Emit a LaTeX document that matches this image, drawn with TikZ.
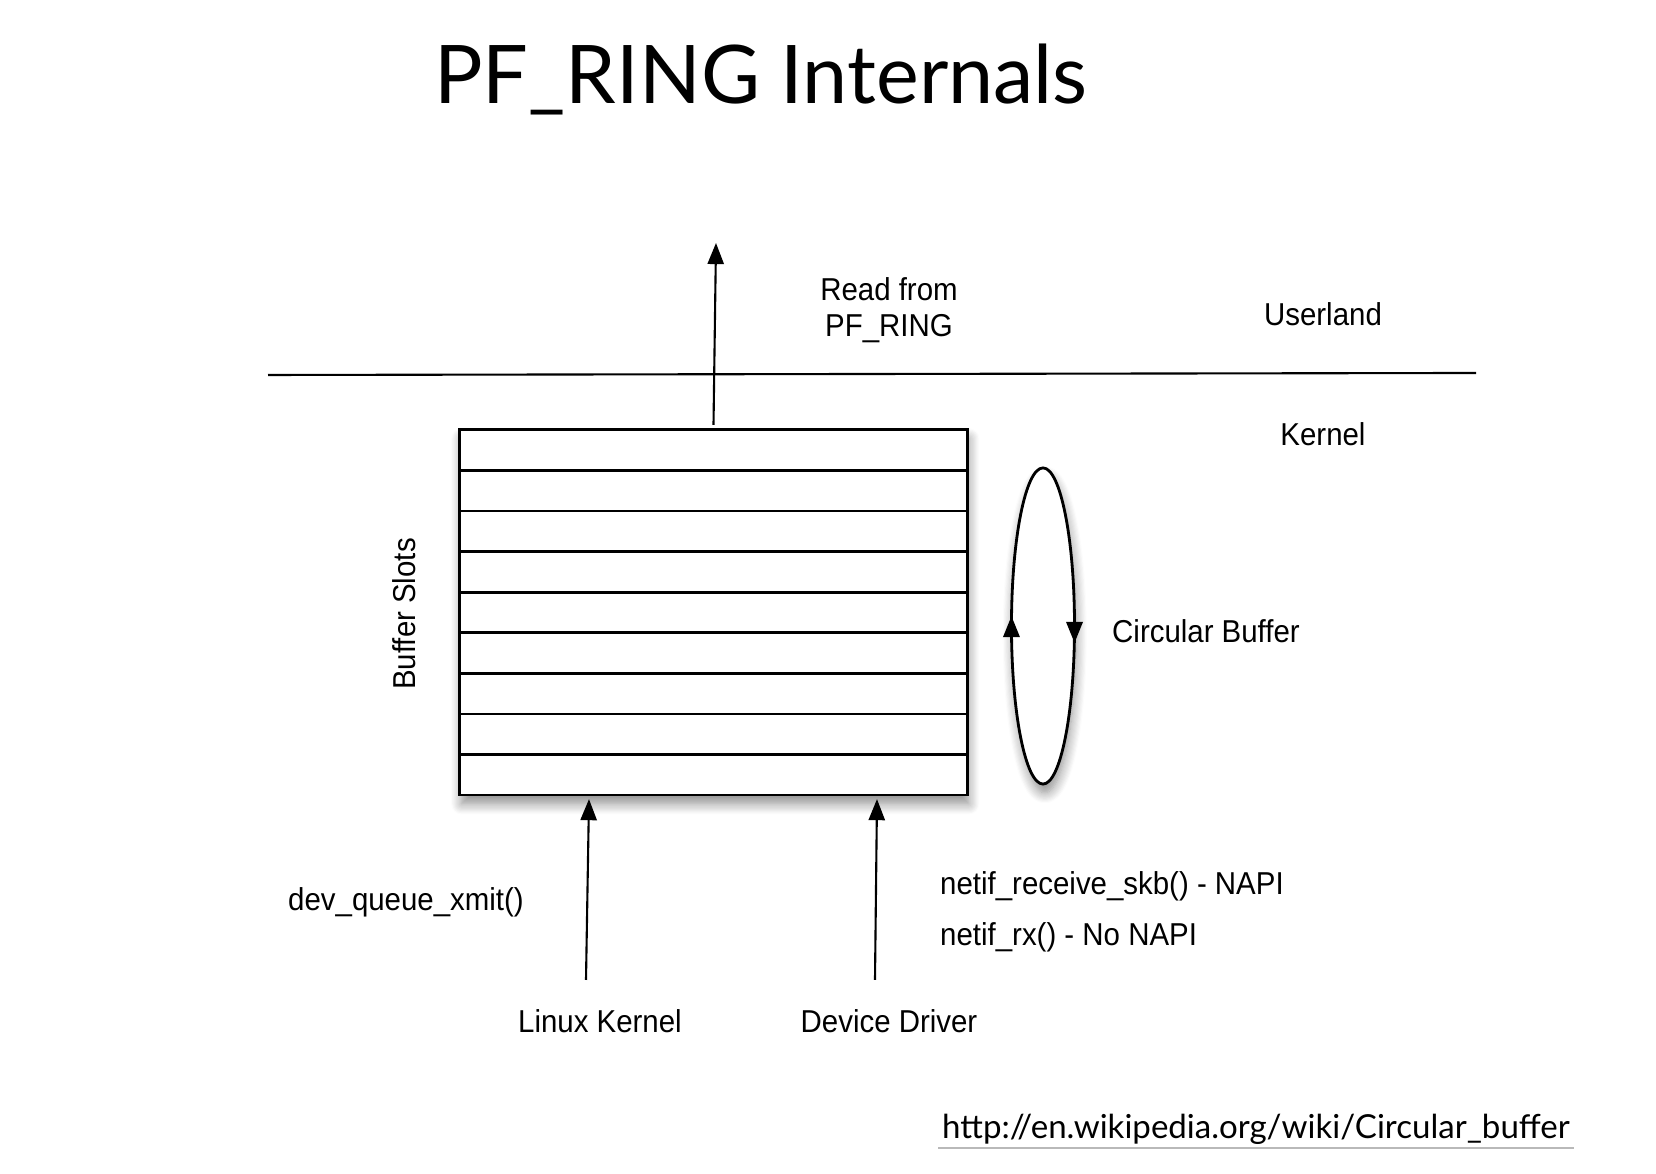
\documentclass[tikz,border=0pt]{standalone}
\usepackage{fontspec}
\setmainfont{Liberation Sans}[FakeStretch=0.93]
\newfontfamily\titlefont{Lato}
\usetikzlibrary{arrows.meta,positioning,shapes.geometric,shadows.blur,calc}

\begin{document}
\begin{tikzpicture}[
	x=0.01cm, y=-0.01cm,
	font=\fontsize{9}{10.2}\selectfont,
	txt/.style={inner sep=1pt, align=center},
	softshadow/.style={blur shadow={shadow xshift=0.5pt, shadow yshift=-2.5pt, shadow blur radius=3pt, shadow blur steps=10, shadow opacity=45}},
	slotbox/.style={draw=black, fill=white, line width=0.8pt, minimum width=5.07cm, minimum height=3.65cm, inner sep=0pt, outer sep=0pt, softshadow},
	ringshape/.style={ellipse, draw=black, fill=white, line width=0.8pt, minimum width=0.63cm, minimum height=3.16cm, inner sep=0pt, outer sep=0pt, softshadow},
	arrow/.style={-{Triangle[length=6pt,width=4.6pt]}, line width=0.6pt, draw=black},
	ringtip/.style={-{Triangle[length=6pt,width=4.6pt]}, line width=0.8pt, draw=black}
]
\useasboundingbox (0,0) rectangle (1656,1174);

% Title
\node[anchor=base, font=\titlefont\fontsize{23}{26}\selectfont] (title) at (761,104) {PF\_RING Internals};

% Userland / kernel divider
\coordinate (divleft) at (268,375);
\coordinate (divright) at (1476,373);
\draw[line width=0.6pt] (divleft) -- (divright);
\node[txt] (userland) at (1323,314) {Userland};
\node[txt] (kernel) at (1323,434) {Kernel};

% Ring buffer with its slots
\node[slotbox] (buffer) at (713.5,612.5) {};
\foreach \i in {1,...,8} {
	\draw[line width=0.8pt] ($(buffer.north west)!\i/9!(buffer.south west)$) -- ($(buffer.north east)!\i/9!(buffer.south east)$);
}
\node[txt, rotate=90] (slots) at (404,614) {Buffer Slots};

% Reading side
\coordinate (readtop) at (716,243);
\draw[arrow] ($(buffer.north)+(0,-5)$) -- (readtop);
\node[txt] (read) at (889,310) {Read from\\PF\_RING};

% Circular motion
\node[ringshape] (ring) at (1043,626) {};
\draw[ringtip] ($(ring.west)+(0,8)$) -- ($(ring.west)+(0,-10)$);
\draw[ringtip] ($(ring.east)+(0,-8)$) -- ($(ring.east)+(0,17)$);
\node[txt, anchor=west] (circ) at (1108,631) {Circular Buffer};

% Writing side
\coordinate (lkfoot) at (586,980);
\coordinate (ddfoot) at (875,980);
\draw[arrow] (lkfoot) -- ($(lkfoot |- buffer.south)+(3,4)$);
\draw[arrow] (ddfoot) -- ($(ddfoot |- buffer.south)+(2,4)$);
\node[txt] (xmit) at (406,902) {dev\_queue\_xmit()};
\node[txt, anchor=west] (napi) at (936,886) {netif\_receive\_skb() - NAPI};
\node[txt, anchor=west] (nonapi) at (936,937) {netif\_rx() - No NAPI};
\node[txt] (linux) at (600,1021) {Linux Kernel};
\node[txt] (driver) at (889,1021) {Device Driver};

% Reference link
\node[anchor=west, inner sep=1pt, font=\titlefont\fontsize{9.4}{11}\selectfont] (url) at (938,1129) {http://en.wikipedia.org/wiki/Circular\_buffer};
\draw[gray!55, line width=0.6pt] (url.south west) -- (url.south east);

\end{tikzpicture}
\end{document}
